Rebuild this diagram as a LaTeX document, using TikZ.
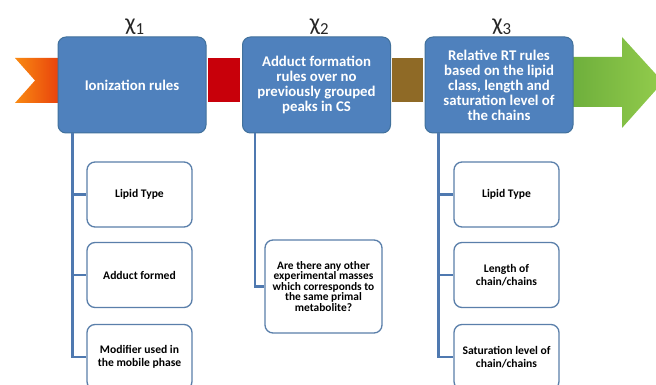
\documentclass[tikz,border=0pt]{standalone}
\usepackage{fontspec}
\setmainfont{Carlito}
\usetikzlibrary{calc}
\definecolor{boxblue}{HTML}{4F81BD}
\definecolor{boxedge}{HTML}{41719C}
\definecolor{smalledge}{HTML}{5A7FAA}
\definecolor{linkblue}{HTML}{4F79B0}
\definecolor{chevA}{HTML}{F98A12}
\definecolor{chevB}{HTML}{E8400C}
\definecolor{bandred}{HTML}{C8000A}
\definecolor{bandbrown}{HTML}{8F6A26}
\definecolor{greenA}{HTML}{6EAF3C}
\definecolor{greenB}{HTML}{93CC4C}
\tikzset{
  bigbox/.style={rectangle, rounded corners=8pt, fill=boxblue, draw=boxedge,
    line width=1pt, minimum width=148pt, minimum height=96pt, inner sep=2pt,
    text=white, align=center, font=\bfseries\fontsize{14.8}{15}\selectfont},
  smallbox/.style={rectangle, rounded corners=8pt, fill=white, draw=smalledge,
    line width=1.3pt, minimum width=105pt, minimum height=65pt, inner sep=2pt,
    align=center, font=\bfseries\fontsize{11.6}{12.7}\selectfont},
  qbox/.style={smallbox, minimum width=117pt, minimum height=93pt,
    font=\bfseries\fontsize{11.4}{10.5}\selectfont},
  chilabel/.style={font=\fontsize{24}{26}\selectfont, text=black!85, inner sep=0pt},
  conn/.style={draw=linkblue, line width=2.8pt},
}
\begin{document}
\begin{tikzpicture}[x=1pt,y=-1pt]
\clip (0,0) rectangle (656,385);
\fill[white] (0,0) rectangle (656,385);

% process band behind the boxes
\shade[left color=chevA, right color=chevB]
  (15,58) -- (60,58) -- (60,103) -- (15,103) -- (35,80.5) -- cycle;
\fill[bandred] (208,58) rectangle (240,102);
\fill[bandbrown] (392,58) rectangle (423,102);
\shade[left color=greenA, right color=greenB]
  (572,57) -- (622,57) -- (622,37) -- (663,82) -- (622,128) -- (622,107) -- (572,107) -- cycle;

% main stages
\node[bigbox] (b1) at (132,85) {Ionization rules};
\node[bigbox] (b2) at (316.5,85) {Adduct formation\\rules over no\\previously grouped\\peaks in CS};
\node[bigbox] (b3) at (499,85) {Relative RT rules\\based on the lipid\\class, length and\\saturation level of\\the chains};

\node[chilabel] (c1) at (135,27) {χ\textsubscript{1}};
\node[chilabel] (c2) at (319.5,27) {χ\textsubscript{2}};
\node[chilabel] (c3) at (502,27) {χ\textsubscript{3}};

% sub-items
\node[smallbox] (s1a) at (139.5,194.5) {Lipid Type};
\node[smallbox] (s1b) at (139.5,275) {Adduct formed};
\node[smallbox] (s1c) at (139.5,357) {Modifier used in\\the mobile phase};

\node[qbox] (s2a) at (323.5,286.5) {Are there any other\\experimental masses\\which corresponds to\\the same primal\\metabolite?};

\node[smallbox] (s3a) at (506.5,194.5) {Lipid Type};
\node[smallbox] (s3b) at (506.5,275) {Length of\\chain/chains};
\node[smallbox] (s3c) at (506.5,357) {Saturation level of\\chain/chains};

% tree connectors
\coordinate (t1) at ($(b1.south west)+(15,0)$);
\coordinate (t2) at ($(b2.south west)+(13,0)$);
\coordinate (t3) at ($(b3.south west)+(14,0)$);
\draw[conn] (t1) |- (s1c.west);
\draw[conn] (t1 |- s1a.west) -- (s1a.west);
\draw[conn] (t1 |- s1b.west) -- (s1b.west);
\draw[conn] (t2) |- (s2a.west);
\draw[conn] (t3) |- (s3c.west);
\draw[conn] (t3 |- s3a.west) -- (s3a.west);
\draw[conn] (t3 |- s3b.west) -- (s3b.west);
\end{tikzpicture}
\end{document}
